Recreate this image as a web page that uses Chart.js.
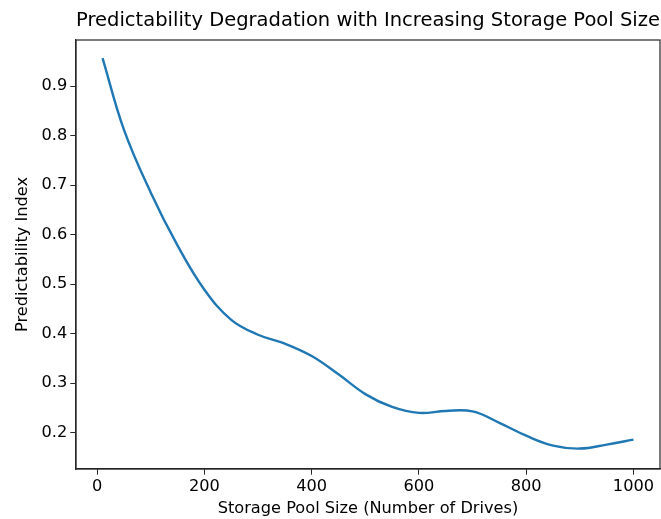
<!DOCTYPE html>
<html>
<head>
<meta charset="utf-8">
<script src="https://cdn.jsdelivr.net/npm/chart.js@4"></script>
<style>
  html, body { margin: 0; padding: 0; background: #fff; }
  #wrap { width: 661px; height: 519px; }
</style>
</head>
<body>
<div id="wrap"><canvas id="chart" width="661" height="519"></canvas></div>
<script>
// values
const poolSizes = [10, 50, 100, 150, 200, 250, 300, 350, 400, 450, 500, 550, 600, 650, 700, 750, 800, 850, 900, 950, 1000];
const predictability = [0.957, 0.812, 0.685, 0.578, 0.489, 0.428, 0.398, 0.380, 0.355, 0.318, 0.278, 0.252, 0.240, 0.244, 0.243, 0.220, 0.194, 0.174, 0.168, 0.176, 0.186];
const xTicks = [0, 200, 400, 600, 800, 1000];
const yTicks = [0.2, 0.3, 0.4, 0.5, 0.6, 0.7, 0.8, 0.9];

const font = { family: 'DejaVu Sans', size: 16.2 };

const frame = {
  id: 'frame',
  afterDraw(chart) {
    const a = chart.chartArea;
    const ctx = chart.ctx;
    ctx.save();
    ctx.strokeStyle = '#262626';
    ctx.lineWidth = 1.2;
    ctx.strokeRect(a.left, a.top, a.right - a.left, a.bottom - a.top);
    ctx.restore();
  }
};

const ctx = document.getElementById('chart');
new Chart(ctx, {
  type: 'line',
  data: {
    datasets: [
      {
        label: 'Predictability Index',
        data: poolSizes.map((x, i) => ({ x, y: predictability[i] })),
        borderColor: '#1f77b4',
        borderWidth: 2.4,
        pointRadius: 0,
        tension: 0.4,
        fill: false
      }
    ]
  },
  plugins: [frame],
  options: {
    responsive: false,
    animation: false,
    layout: { padding: { left: 0, right: 1, top: 0, bottom: 0 } },
    plugins: {
      legend: { display: false },
      tooltip: { enabled: false },
      title: {
        display: true,
        fullSize: false,
        text: 'Predictability Degradation with Increasing Storage Pool Size',
        color: '#000',
        font: { family: 'DejaVu Sans', size: 19.5, weight: 'normal' },
        padding: { top: 9, bottom: 7.6 }
      }
    },
    scales: {
      x: {
        type: 'linear',
        min: -39.5,
        max: 1049.5,
        afterBuildTicks(scale) {
          scale.ticks = xTicks.map(v => ({ value: v }));
        },
        afterFit(scale) {
          scale.height = 50;
        },
        grid: { display: true, drawOnChartArea: false, drawTicks: true, tickLength: 5.7, color: '#262626' },
        border: { display: true, color: '#262626', width: 1.2 },
        ticks: {
          color: '#000',
          font,
          padding: 2,
          maxRotation: 0,
          callback(value) {
            return value.toString();
          }
        },
        title: {
          display: true,
          text: 'Storage Pool Size (Number of Drives)',
          color: '#000',
          font,
          padding: { top: 0, bottom: 0 }
        }
      },
      y: {
        type: 'linear',
        min: 0.1267,
        max: 0.9935,
        afterBuildTicks(scale) {
          scale.ticks = yTicks.map(v => ({ value: v }));
        },
        afterFit(scale) {
          scale.width = 76;
        },
        grid: { display: true, drawOnChartArea: false, drawTicks: true, tickLength: 5.7, color: '#262626' },
        border: { display: true, color: '#262626', width: 1.2 },
        ticks: {
          color: '#000',
          font,
          padding: 3,
          callback(value) {
            return value.toFixed(1);
          }
        },
        title: {
          display: true,
          text: 'Predictability Index',
          color: '#000',
          font,
          padding: { top: 13, bottom: 0 }
        }
      }
    }
  }
});
</script>
</body>
</html>
